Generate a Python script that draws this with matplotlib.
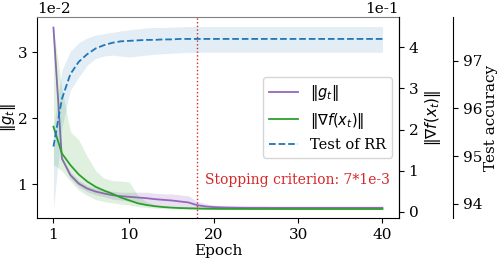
import numpy as np
import matplotlib
matplotlib.use("Agg")
import matplotlib.pyplot as plt

plt.rcParams['font.family'] = ['DejaVu Serif']
plt.rcParams['axes.unicode_minus'] = False
plt.rcParams['font.size'] = 11

epochs = list(range(1, 41))

# ||g_t|| (left axis)
g_mean = [0.0337, 0.0139, 0.0114, 0.0101, 0.00935, 0.0089, 0.0086, 0.00835, 0.0082, 0.0081,
          0.0080, 0.0079, 0.00775, 0.00765, 0.00755, 0.0074, 0.00725, 0.00685, 0.00665, 0.00655,
          0.0065, 0.00648, 0.00646, 0.00645, 0.00645, 0.00645, 0.00644, 0.00644, 0.00644, 0.00644,
          0.00644, 0.00644, 0.00644, 0.00644, 0.00644, 0.00644, 0.00644, 0.00644, 0.00644, 0.00644]
g_std = [0.0002, 0.0003, 0.0005, 0.0005, 0.0005, 0.0005, 0.0005, 0.0006, 0.0006, 0.0007,
         0.0008, 0.0009, 0.0009, 0.0009, 0.0010, 0.0010, 0.0010, 0.0006, 0.0004, 0.0003,
         0.00025, 0.0002, 0.0002, 0.0002, 0.0002, 0.0002, 0.0002, 0.0002, 0.0002, 0.0002,
         0.0002, 0.0002, 0.0002, 0.0002, 0.0002, 0.0002, 0.0002, 0.0002, 0.0002, 0.0002]

# ||grad f(x_t)|| (right axis)
f_mean = [0.207, 0.142, 0.114, 0.091, 0.074, 0.061, 0.052, 0.044, 0.035, 0.028,
          0.021, 0.017, 0.014, 0.012, 0.0105, 0.0095, 0.009, 0.0085, 0.008, 0.0078,
          0.0076, 0.0075, 0.0074, 0.0074, 0.0073, 0.0073, 0.0073, 0.0073, 0.0072, 0.0072,
          0.0072, 0.0072, 0.0072, 0.0072, 0.0072, 0.0072, 0.0072, 0.0072, 0.0072, 0.0072]
f_low = [0.115, 0.100, 0.075, 0.053, 0.040, 0.030, 0.025, 0.022, 0.019, 0.017,
         0.013, 0.011, 0.009, 0.008, 0.0075, 0.007, 0.0068, 0.0066, 0.0064, 0.0063,
         0.0062, 0.0062, 0.0062, 0.0062, 0.0062, 0.0062, 0.0062, 0.0062, 0.0062, 0.0062,
         0.0062, 0.0062, 0.0062, 0.0062, 0.0062, 0.0062, 0.0062, 0.0062, 0.0062, 0.0062]
f_high = [0.446, 0.300, 0.195, 0.175, 0.135, 0.100, 0.082, 0.076, 0.075, 0.073,
          0.040, 0.025, 0.018, 0.015, 0.013, 0.012, 0.011, 0.010, 0.0095, 0.009,
          0.009, 0.0088, 0.0087, 0.0086, 0.0085, 0.0085, 0.0085, 0.0085, 0.0085, 0.0085,
          0.0085, 0.0085, 0.0085, 0.0085, 0.0085, 0.0085, 0.0085, 0.0085, 0.0085, 0.0085]

# Test accuracy of RR (third axis)
acc_mean = [95.2, 96.2, 96.72, 96.98, 97.14, 97.26, 97.33, 97.38, 97.41, 97.42,
            97.43, 97.44, 97.44, 97.45, 97.45, 97.46, 97.46, 97.46, 97.46, 97.46,
            97.46, 97.46, 97.46, 97.46, 97.46, 97.46, 97.46, 97.46, 97.46, 97.46,
            97.46, 97.46, 97.46, 97.46, 97.46, 97.46, 97.46, 97.46, 97.46, 97.46]
acc_low = [93.9, 95.6, 96.38, 96.66, 96.91, 97.05, 97.10, 97.12, 97.10, 97.08,
           97.10, 97.12, 97.14, 97.15, 97.16, 97.17, 97.18, 97.18, 97.18, 97.18,
           97.18, 97.18, 97.18, 97.18, 97.18, 97.18, 97.18, 97.18, 97.18, 97.18,
           97.18, 97.18, 97.18, 97.18, 97.18, 97.18, 97.18, 97.18, 97.18, 97.18]
acc_high = [95.6, 96.8, 97.2, 97.38, 97.48, 97.54, 97.57, 97.60, 97.63, 97.65,
            97.67, 97.69, 97.70, 97.70, 97.71, 97.71, 97.72, 97.72, 97.72, 97.72,
            97.72, 97.72, 97.72, 97.72, 97.72, 97.72, 97.72, 97.72, 97.72, 97.72,
            97.72, 97.72, 97.72, 97.72, 97.72, 97.72, 97.72, 97.72, 97.72, 97.72]

stop_epoch = 18

g_mean = np.array(g_mean)
g_std = np.array(g_std)

fig, ax = plt.subplots(figsize=(4.98, 2.62), dpi=100)
fig.subplots_adjust(left=0.0743, right=0.801, bottom=0.168, top=0.935)
ax2 = ax.twinx()
ax3 = ax.twinx()
ax3.spines['right'].set_position(('axes', 1.15))

l1, = ax.plot(epochs, g_mean, color='tab:purple', lw=1.3, label=r'$\|g_t\|$')
ax.fill_between(epochs, g_mean - g_std, g_mean + g_std, color='tab:purple', alpha=0.2, lw=0)
l2, = ax2.plot(epochs, f_mean, color='tab:green', lw=1.3, label=r'$\|\nabla f(x_t)\|$')
ax2.fill_between(epochs, f_low, f_high, color='tab:green', alpha=0.15, lw=0)
l3, = ax3.plot(epochs, acc_mean, color='tab:blue', lw=1.3, ls='--', label='Test of RR')
ax3.fill_between(epochs, acc_low, acc_high, color='tab:blue', alpha=0.13, lw=0)

ax.axvline(stop_epoch, color='tab:red', ls=':', lw=1)
ax.text(stop_epoch + 1, 0.0106, 'Stopping criterion: 7*1e-3', color='tab:red',
        va='center', ha='left', fontsize=10)

ax.set_xlim(-0.95, 41.95)
ax.set_ylim(0.0049, 0.0353)
ax2.set_ylim(-0.0146, 0.473)
ax3.set_ylim(93.7, 97.92)

ax.set_xticks([1, 10, 20, 30, 40])
ax.set_yticks([0.01, 0.02, 0.03])
ax2.set_yticks([0, 0.1, 0.2, 0.3, 0.4])
ax3.set_yticks([94, 95, 96, 97])
ax.ticklabel_format(axis='y', style='sci', scilimits=(0, 0))
ax2.ticklabel_format(axis='y', style='sci', scilimits=(0, 0))

ax.set_xlabel('Epoch', labelpad=2)
ax.set_ylabel(r'$\|g_t\|$', fontsize=10.5)
ax.yaxis.set_label_coords(-0.052, 0.5)
ax2.set_ylabel(r'$\|\nabla f(x_t)\|$', labelpad=3)
ax3.set_ylabel('Test accuracy', labelpad=1)

ax.spines['top'].set_color('#808080')
for a in (ax2, ax3):
    a.spines['top'].set_visible(False)
    a.spines['left'].set_visible(False)
    a.spines['bottom'].set_visible(False)

leg = ax3.legend(handles=[l1, l2, l3], loc='center right', fontsize=10.5)

fig.savefig('out.png', dpi=100)
